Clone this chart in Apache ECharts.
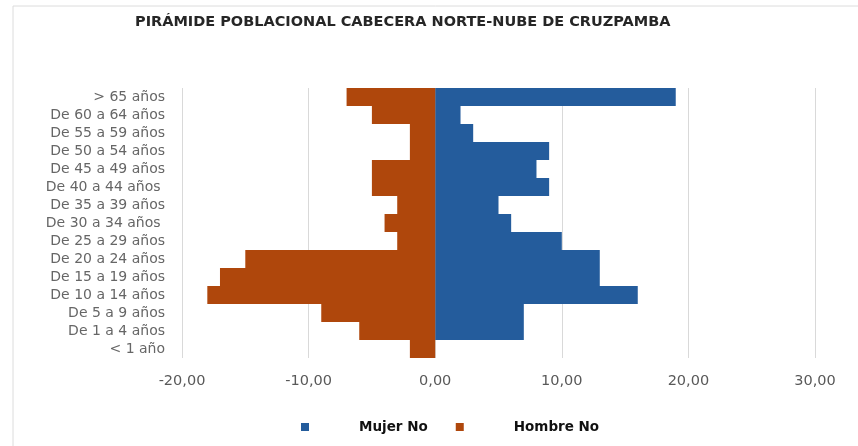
<!DOCTYPE html>
<html>
<head>
<meta charset="utf-8">
<script src="https://cdn.jsdelivr.net/npm/echarts@6/dist/echarts.min.js"></script>
<style>
  html, body { margin: 0; padding: 0; background: #fff; }
  #chart { width: 858px; height: 446px; }
</style>
</head>
<body>
<div id="chart"></div>
<script>
// grupos de edad, de abajo hacia arriba
const categories = [
  "< 1 año", "De 1 a 4 años", "De 5 a 9 años", "De 10 a 14 años",
  "De 15 a 19 años", "De 20 a 24 años", "De 25 a 29 años", "De 30 a 34 años ",
  "De 35 a 39 años", "De 40 a 44 años ", "De 45 a 49 años", "De 50 a 54 años",
  "De 55 a 59 años", "De 60 a 64 años", "> 65 años"
];
const mujer = [0, 7, 7, 16, 13, 13, 10, 6, 5, 9, 8, 9, 3, 2, 19];
const hombre = [-2, -6, -9, -18, -17, -15, -3, -4, -3, -5, -5, -2, -2, -5, -7];
const xTicks = [-20, -10, 0, 10, 20, 30];

const chart = echarts.init(document.getElementById("chart"));

const fmt = (v) => v.toFixed(2).replace(".", ",");

const option = {
  backgroundColor: "#fff",
  animation: false,
  graphic: [
    // marco del gráfico
    {
      type: "polyline",
      shape: { points: [[13, 446], [13, 6], [858, 6]] },
      style: { stroke: "#dcdcdc", lineWidth: 1, fill: null }
    }
  ],
  title: {
    text: "PIRÁMIDE POBLACIONAL CABECERA NORTE-NUBE DE CRUZPAMBA",
    left: 130,
    top: 10,
    textStyle: {
      fontFamily: "DejaVu Sans",
      fontSize: 14.5,
      fontWeight: "bold",
      color: "#262626"
    }
  },
  legend: {
    bottom: 7,
    left: 296,
    icon: "rect",
    itemWidth: 8,
    itemHeight: 8,
    itemGap: 28,
    data: ["Mujer No", "Hombre No"],
    textStyle: {
      fontFamily: "DejaVu Sans",
      fontSize: 13.5,
      fontWeight: "bold",
      color: "#111",
      padding: [0, 0, 0, 45]
    }
  },
  // alto de 270 px = 15 filas de 18 px, sin costuras entre barras
  grid: { left: 182, right: 43, top: 88, bottom: 88 },
  xAxis: {
    type: "value",
    min: xTicks[0],
    max: xTicks[xTicks.length - 1],
    interval: 10,
    axisLine: { show: false },
    axisTick: { show: false },
    splitLine: { lineStyle: { color: "#d9d9d9" } },
    axisLabel: {
      formatter: fmt,
      margin: 16,
      fontFamily: "DejaVu Sans",
      fontSize: 14.5,
      color: "#595959"
    }
  },
  yAxis: {
    type: "category",
    data: categories,
    axisLine: { show: false },
    axisTick: { show: false },
    axisLabel: {
      margin: 17,
      fontFamily: "DejaVu Sans",
      fontSize: 14,
      color: "#666",
      interval: 0
    }
  },
  series: [
    {
      name: "Mujer No",
      type: "bar",
      data: mujer,
      barCategoryGap: 0,
      barGap: "-100%",
      itemStyle: { color: "#245C9C" }
    },
    {
      name: "Hombre No",
      type: "bar",
      data: hombre,
      barCategoryGap: 0,
      itemStyle: { color: "#AF470C" }
    }
  ]
};

chart.setOption(option);
</script>
</body>
</html>
